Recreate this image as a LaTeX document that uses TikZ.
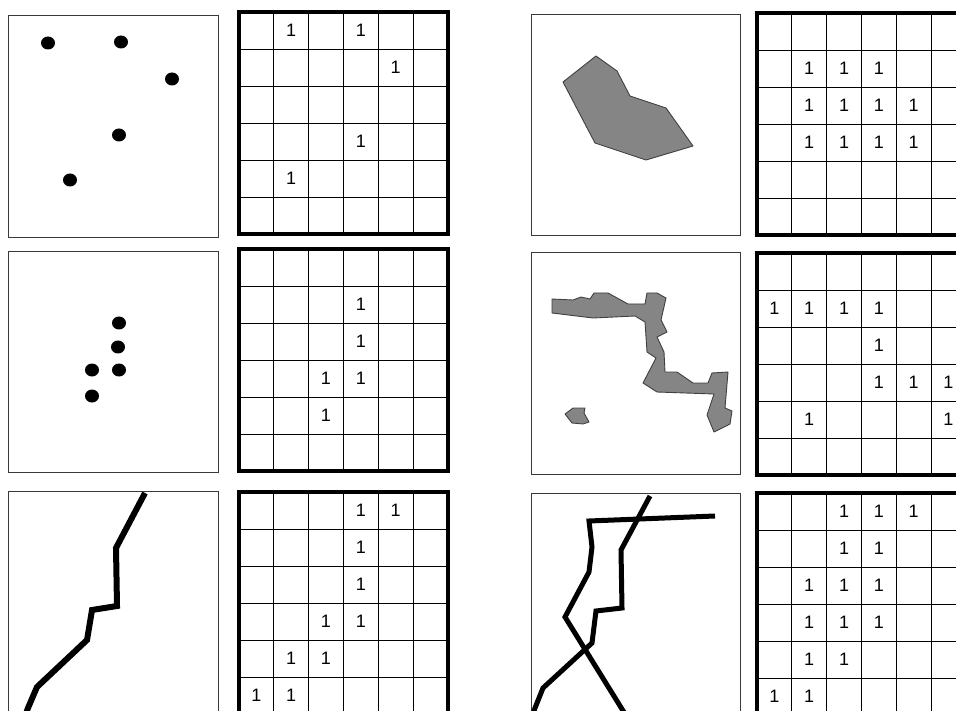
\documentclass[tikz,border=0pt]{standalone}
\usepackage{fontspec}
\setmainfont{Liberation Sans}
\definecolor{blobgray}{HTML}{858585}
\definecolor{framegray}{HTML}{3A3A3A}

\begin{document}
\begin{tikzpicture}[x=1pt,y=-1pt,font=\fontsize{18}{18}\selectfont,
  panel/.style={draw=framegray,line width=0.9pt},
  cellrule/.style={line width=0.9pt},
  gridframe/.style={line width=4pt},
  dot/.style={fill=black},
  track/.style={line width=6pt,line join=miter},
  blob/.style={fill=blobgray,draw=black!75,line width=0.9pt,line join=round}]
\useasboundingbox (0,0) rectangle (956,711);
\clip (0,0) rectangle (956,711);
% left column: points and lines
\draw[panel] (8,15) rectangle (218,237);
\draw[panel] (8,251) rectangle (218,472);
\draw[panel] (8,491) rectangle (218,730);
\foreach \px/\py [count=\k] in {48/43,121/42,172/79,119/135,70/180}
  \fill[dot] (\px,\py) ellipse [x radius=7,y radius=6.5];
\foreach \px/\py [count=\k] in {119/323,118/347,92/370,119/370,92/396}
  \fill[dot] (\px,\py) ellipse [x radius=7,y radius=6.5];
\draw[track] (145,493) -- (116,548) -- (117,606) -- (92,610) -- (87,640)
  -- (37,687) -- (28,708) -- (23,722);
% right column: areas and crossing lines
\draw[panel] (531,14) rectangle (740,235);
\draw[panel] (531,252) rectangle (740,474);
\draw[panel] (531,493) rectangle (740,730);
\draw[blob] (563,82) -- (596,56) -- (617,71) -- (630,96) -- (666,108)
  -- (693,146) -- (646,160) -- (595,143) -- cycle;
\draw[blob] (552,299) -- (573,300) -- (581,297) -- (590,299) -- (594,293)
  -- (608,293) -- (628,304) -- (645,304) -- (647,293) -- (657,293)
  -- (666,298) -- (661,320) -- (667,332) -- (657,337) -- (664,352)
  -- (665,372) -- (677,372) -- (693,383) -- (708,383) -- (712,373)
  -- (728,372) -- (725,408) -- (732,411) -- (730,424) -- (714,432)
  -- (707,415) -- (714,394) -- (657,392) -- (643,383) -- (656,358)
  -- (647,352) -- (645,322) -- (635,316) -- (593,318) -- (552,313) -- cycle;
\draw[blob] (565,414) -- (573,408) -- (585,408) -- (584,413) -- (589,422)
  -- (583,424) -- (572,423) -- cycle;
\draw[track,line width=5pt] (715,516) -- (589,521) -- (592,547) -- (589,572)
  -- (565,617) -- (630,722);
\draw[track,line width=5pt] (650,496) -- (621,550) -- (622,608) -- (596,611)
  -- (592,643) -- (543,688) -- (535,708) -- (530,722);
% 6x6 grids with the counts
\foreach \gx/\gy/\ones [count=\g] in {
    239/12/{2/1,4/1,5/2,4/4,2/5},
    239/249/{4/2,4/3,3/4,4/4,3/5},
    239/492/{4/1,5/1,4/2,4/3,3/4,4/4,2/5,3/5,1/6,2/6},
    757/13/{2/2,3/2,4/2,2/3,3/3,4/3,5/3,2/4,3/4,4/4,5/4},
    757/253/{1/2,2/2,3/2,4/2,4/3,4/4,5/4,6/4,2/5,6/5},
    757/493/{3/1,4/1,5/1,3/2,4/2,2/3,3/3,4/3,2/4,3/4,4/4,2/5,3/5,1/6,2/6}} {
  \foreach \i in {1,...,5} {
    \draw[cellrule] ({\gx+\i*34.8},\gy) -- ({\gx+\i*34.8},{\gy+222});
    \draw[cellrule] (\gx,{\gy+\i*37}) -- ({\gx+209},{\gy+\i*37});
  }
  \draw[gridframe] (\gx,\gy) rectangle ({\gx+209},{\gy+222});
  \foreach \c/\r in \ones
    \node[inner sep=0pt] (one-\g-\c-\r) at ({\gx+(\c-0.5)*34.8},{\gy+(\r-0.5)*37}) {1};
}
\end{tikzpicture}
\end{document}
